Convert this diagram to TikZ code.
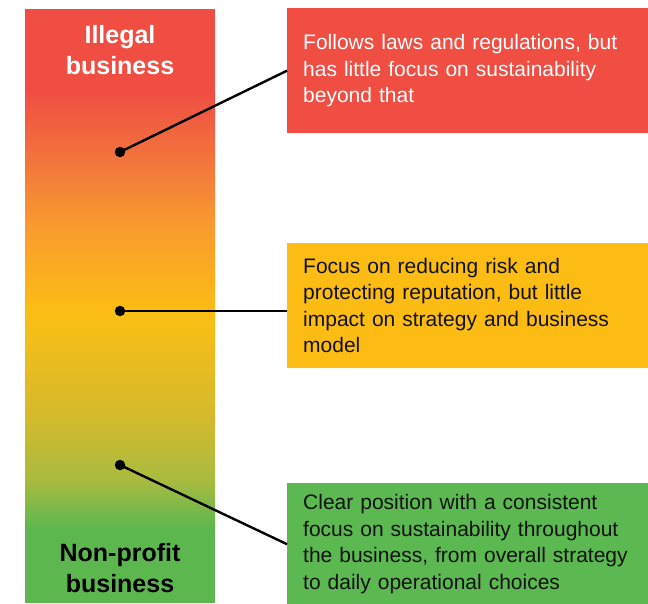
\documentclass[tikz,border=0pt]{standalone}
\usepackage{fontspec}
\setmainfont{Liberation Sans}
\definecolor{cRed}{HTML}{F04D43}
\definecolor{cRedOr}{HTML}{F3803A}
\definecolor{cOrange}{HTML}{F99A2E}
\definecolor{cYellow}{HTML}{FCBE13}
\definecolor{cOlive}{HTML}{D2BA2E}
\definecolor{cLime}{HTML}{A8BB3F}
\definecolor{cGreen}{HTML}{5CB74F}
\definecolor{cBoxRed}{HTML}{F04D43}
\definecolor{cBoxYellow}{HTML}{FCBC14}
\definecolor{cBoxGreen}{HTML}{5CB850}
\tikzset{
  band/.style={draw=none},
  infobox/.style={draw=none, rectangle, anchor=north west, inner xsep=16pt, inner ysep=0pt,
    minimum width=361pt, minimum height=125pt, text width=329pt, align=left,
    font=\fontsize{21}{26.5}\selectfont},
  endlabel/.style={align=center, font=\fontsize{25}{31}\selectfont\bfseries},
  dot/.style={circle, fill=black, inner sep=0pt, minimum size=10.5pt},
  link/.style={line width=2.4pt, black}
}
\begin{document}
\begin{tikzpicture}[x=1pt,y=-1pt]
\useasboundingbox (0,0) rectangle (648,603);
\fill[white] (0,0) rectangle (648,603);
% gradient scale bar
\fill[cRed] (25,9) rectangle (215,91);
\shade[band, top color=cRed, bottom color=cRedOr] (25,90) rectangle (215,181);
\shade[band, top color=cRedOr, bottom color=cOrange] (25,180) rectangle (215,224);
\shade[band, top color=cOrange, bottom color=cYellow] (25,223) rectangle (215,314);
\shade[band, top color=cYellow, bottom color=cOlive] (25,313) rectangle (215,421);
\shade[band, top color=cOlive, bottom color=cLime] (25,420) rectangle (215,481);
\shade[band, top color=cLime, bottom color=cGreen] (25,480) rectangle (215,529);
\fill[cGreen] (25,528) rectangle (215,603);
% scale end labels
\node[endlabel, text=white] (top) at (120,50) {Illegal\\business};
\node[endlabel, text=black] (bottom) at (120,568.5) {Non-profit\\business};
% description boxes
\node[infobox, fill=cBoxRed, text=white] (b1) at (287,8)
  {Follows laws and regulations, but\\has little focus on sustainability\\beyond that};
\node[infobox, fill=cBoxYellow, text=black!93] (b2) at (287,243)
  {Focus on reducing risk and\\protecting reputation, but little\\impact on strategy and business\\model};
\node[infobox, fill=cBoxGreen, text=black!93, minimum height=122pt] (b3) at (287,483)
  {Clear position with a consistent\\focus on sustainability throughout\\the business, from overall strategy\\to daily operational choices};
% markers on the scale and their connectors
\node[dot] (d1) at (120,152) {};
\node[dot] (d2) at (120,311) {};
\node[dot] (d3) at (120,465) {};
\coordinate (e2) at (b2.west |- d2);
\draw[link] (d1.center) -- (b1.west);
\draw[link] (d2.center) -- (e2);
\draw[link] (d3.center) -- (b3.west);
\end{tikzpicture}
\end{document}
